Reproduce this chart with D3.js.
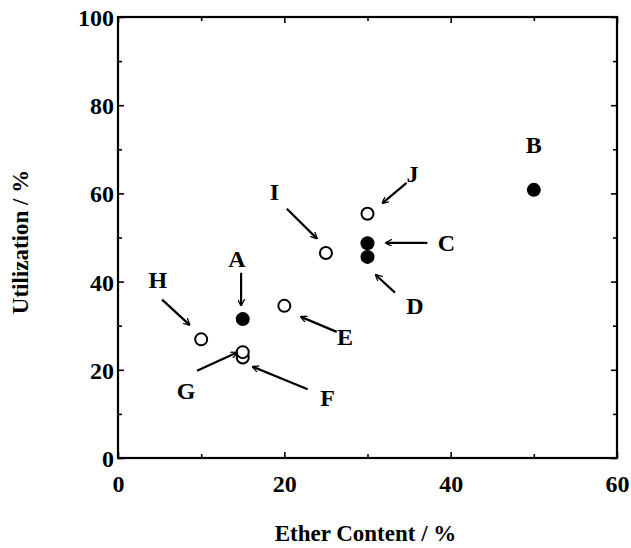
<!DOCTYPE html>
<html>
<head>
<meta charset="utf-8">
<script src="https://cdn.jsdelivr.net/npm/d3@7"></script>
<style>
  html, body { margin: 0; padding: 0; background: #fff; }
  svg text { font-family: "Liberation Serif", "Times New Roman", serif; font-weight: bold; fill: #000; }
</style>
</head>
<body>
<svg id="chart" width="631" height="548"></svg>
<script>
// Samples: ether content (%) vs. utilization (%)
const labels   = ["A", "B", "C", "D", "E", "F", "G", "H", "I", "J"];
const ether    = [15, 50, 30, 30, 20, 15, 15, 10, 25, 30];
const util     = [31.5, 60.8, 48.7, 45.6, 34.5, 22.8, 24.0, 26.9, 46.5, 55.4];
const filled   = [true, true, true, true, false, false, false, false, false, false];

// Callout label anchor and arrow (tail -> head), in data units
const labelX   = [14.3, 50, 39.5, 35.7, 27.3, 25.2, 8.2, 4.8, 18.8, 35.4];
const labelY   = [45.2, 71.0, 48.8, 34.6, 27.5, 13.8, 15.2, 40.4, 60.5, 64.4];
const tailX    = [14.8, null, 37.2, 33.3, 26.3, 22.8, 9.5, 5.3, 20.3, 34.7];
const tailY    = [42.0, null, 48.8, 37.5, 28.6, 15.6, 19.8, 35.9, 56.5, 62.4];
const headX    = [14.8, null, 32.2, 31.0, 22.0, 16.2, 14.3, 8.6, 23.9, 31.8];
const headY    = [34.6, null, 48.8, 41.5, 32.0, 20.7, 23.9, 30.2, 49.8, 57.8];

const xTicks = [0, 20, 40, 60];
const yTicks = [0, 20, 40, 60, 80, 100];
const xMinor = [10, 30, 50];
const yMinor = [10, 30, 50, 70, 90];

const svg = d3.select("#chart");
const L = 118, R = 617, T = 17, B = 458;
const FS = 24;

const x = d3.scaleLinear().domain([0, 60]).range([L, R]);
const y = d3.scaleLinear().domain([0, 100]).range([B, T]);

// Frame
svg.append("rect")
  .attr("x", L).attr("y", T).attr("width", R - L).attr("height", B - T)
  .attr("fill", "none").attr("stroke", "#000").attr("stroke-width", 2.2);

function styleText(g) {
  g.attr("font-size", FS).attr("font-family", "Liberation Serif").attr("font-weight", "bold");
  g.selectAll("text").attr("fill", "#000");
}
function styleLines(g) {
  g.select(".domain").remove();
  g.selectAll("line").attr("stroke", "#000").attr("stroke-width", 1.6);
}

// Inward ticks on all four sides
function drawTicks(xv, yv, len, withLabels) {
  const fmt = withLabels ? d3.format("d") : "";
  svg.append("g").attr("transform", `translate(0,${B})`)
    .call(d3.axisBottom(x).tickValues(xv).tickSizeInner(-len).tickSizeOuter(0).tickFormat(fmt))
    .call(styleLines).call(styleText)
    .call(g => g.selectAll("text").attr("dy", 0).attr("y", 34));
  svg.append("g").attr("transform", `translate(0,${T})`)
    .call(d3.axisTop(x).tickValues(xv).tickSizeInner(-len).tickSizeOuter(0).tickFormat(""))
    .call(styleLines);
  svg.append("g").attr("transform", `translate(${L},0)`)
    .call(d3.axisLeft(y).tickValues(yv).tickSizeInner(-len).tickSizeOuter(0).tickFormat(fmt))
    .call(styleLines).call(styleText)
    .call(g => g.selectAll("text").attr("x", -4).attr("dy", "0.35em"));
  svg.append("g").attr("transform", `translate(${R},0)`)
    .call(d3.axisRight(y).tickValues(yv).tickSizeInner(-len).tickSizeOuter(0).tickFormat(""))
    .call(styleLines);
}
drawTicks(xTicks, yTicks, 6, true);
drawTicks(xMinor, yMinor, 4, false);

// Axis titles
svg.append("text")
  .attr("x", (L + R) / 2 - 2).attr("y", 541)
  .attr("text-anchor", "middle").attr("font-size", 23)
  .text("Ether Content / %");
svg.append("text")
  .attr("transform", `translate(28,242) rotate(-90)`)
  .attr("text-anchor", "middle").attr("font-size", 23)
  .text("Utilization / %");

// Arrowhead
svg.append("defs").append("marker")
  .attr("id", "arrow").attr("viewBox", "0 0 10 10")
  .attr("refX", 9).attr("refY", 5)
  .attr("markerWidth", 7).attr("markerHeight", 7)
  .attr("markerUnits", "userSpaceOnUse")
  .attr("orient", "auto")
  .append("path").attr("d", "M0,0 L10,5 L0,10").attr("fill", "none")
  .attr("stroke", "#000").attr("stroke-width", 1.8);

const idx = d3.range(labels.length);

// Points
svg.append("g").selectAll("circle").data(idx).join("circle")
  .attr("cx", i => x(ether[i])).attr("cy", i => y(util[i]))
  .attr("r", i => filled[i] ? 7 : 6)
  .attr("fill", i => filled[i] ? "#000" : "#fff")
  .attr("stroke", "#000").attr("stroke-width", i => filled[i] ? 0 : 2);

// Callout arrows
svg.append("g").selectAll("line").data(idx.filter(i => tailX[i] !== null)).join("line")
  .attr("x1", i => x(tailX[i])).attr("y1", i => y(tailY[i]))
  .attr("x2", i => x(headX[i])).attr("y2", i => y(headY[i]))
  .attr("stroke", "#000").attr("stroke-width", 2.2)
  .attr("marker-end", "url(#arrow)");

// Callout labels
svg.append("g").selectAll("text").data(idx).join("text")
  .attr("x", i => x(labelX[i])).attr("y", i => y(labelY[i]))
  .attr("text-anchor", "middle").attr("dy", "0.35em")
  .attr("font-size", FS)
  .text(i => labels[i]);
</script>
</body>
</html>
